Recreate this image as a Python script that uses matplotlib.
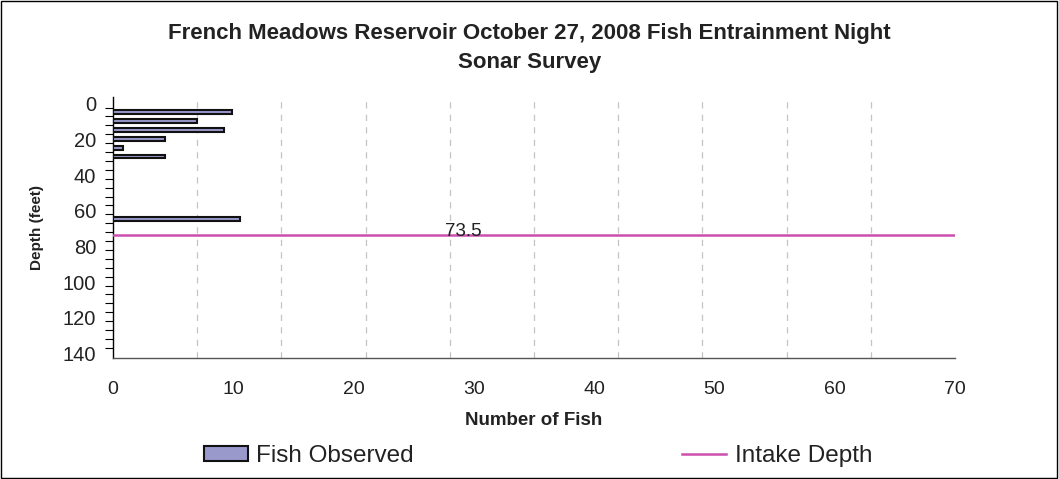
import numpy as np
import matplotlib.pyplot as plt
from matplotlib.patches import Rectangle

# depth of each sonar bin (feet) and fish counted there
depths = [4.5, 9.5, 14.5, 19.5, 24.5, 29.5, 64.5]
fish = [9.9, 7.0, 9.2, 4.3, 0.8, 4.3, 10.6]
intake_depth = 73.5
x_ticks = [0, 10, 20, 30, 40, 50, 60, 70]
y_ticks = [0, 20, 40, 60, 80, 100, 120, 140]

plt.rcParams['font.family'] = ['Liberation Sans', 'DejaVu Sans']

fig = plt.figure(figsize=(10.59, 4.79), dpi=100)
ax = fig.add_axes([0.1067, 0.2532, 0.7951, 0.5443])

bars = ax.barh(depths, fish, height=2.2, color='#9999cc', edgecolor='#111111',
               linewidth=1.5, label='Fish Observed', zorder=3)
line = ax.axhline(intake_depth, color='#cc4fae', linewidth=1.8, label='Intake Depth', zorder=4)
ax.text(29.1, intake_depth + 0.6, str(intake_depth), ha='center', va='baseline',
        fontsize=13.5, color='#222222', zorder=5)

ax.set_xlim(0, 70)
ax.set_ylim(142.5, -3.9)
ax.set_xticks(x_ticks)
ax.set_yticks(y_ticks)
ax.tick_params(axis='x', labelsize=14, length=0, pad=17, labelcolor='#222222')
ax.tick_params(axis='y', labelsize=14.5, length=0, pad=12, labelcolor='#222222')
ax.set_yticks(np.arange(2, 142, 5), minor=True)
ax.tick_params(axis='y', which='minor', length=6, width=0.8)

# vertical dashed gridlines split the plot into ten equal parts
for k in range(1, 10):
    ax.axvline(70 * k / 10, color='#c4c4c4', linestyle=(0, (5, 5)), linewidth=0.9, zorder=1)

for side in ['top', 'right']:
    ax.spines[side].set_visible(False)
ax.spines['left'].set_linewidth(1.0)
ax.spines['bottom'].set_linewidth(1.0)
ax.spines['bottom'].set_color('#555555')

ax.set_xlabel('Number of Fish', fontsize=13.5, fontweight='bold', color='#222222')
ax.xaxis.set_label_coords(0.5, (357.7 - 420) / 260.7)
ax.xaxis.label.set_va('center')
ax.set_ylabel('Depth (feet)', fontsize=11, fontweight='bold', color='#222222')
ax.yaxis.set_label_coords((37 - 113) / 842, 0.5)
ax.yaxis.label.set_va('center')

fig.text(0.5, 0.9, 'French Meadows Reservoir October 27, 2008 Fish Entrainment Night\nSonar Survey',
         ha='center', va='center', fontsize=16, fontweight='bold', linespacing=1.55,
         color='#222222')

leg = fig.legend(handles=[bars, line], loc='center', bbox_to_anchor=(0.508, 1 - 456 / 479), ncol=2,
                 frameon=False, fontsize=17.5, columnspacing=11.05, handlelength=1.8,
                 handleheight=0.62, handletextpad=0.35)
for t in leg.get_texts():
    t.set_color('#222222')

fig.add_artist(Rectangle((0.001, 0.002), 0.997, 0.995, transform=fig.transFigure,
                         fill=False, edgecolor='black', linewidth=1.0))

fig.savefig('out.png', dpi=100)
